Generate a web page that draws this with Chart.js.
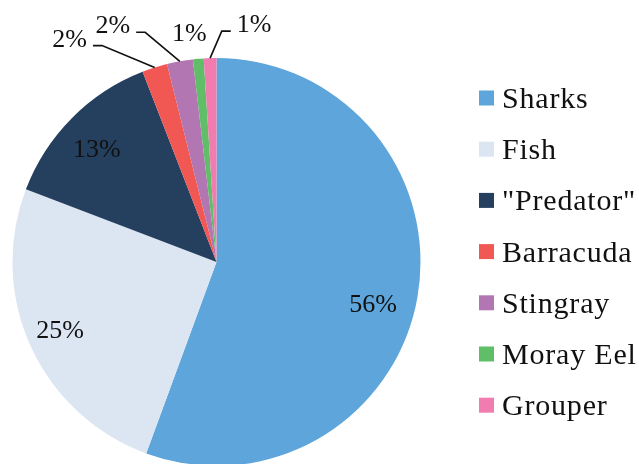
<!DOCTYPE html>
<html>
<head>
<meta charset="utf-8">
<script src="https://cdn.jsdelivr.net/npm/chart.js@4.4.1/dist/chart.umd.min.js"></script>
<style>
  html, body { margin: 0; padding: 0; background: #fff; overflow: hidden; }
  #wrap { width: 639px; height: 464px; overflow: hidden; }
</style>
</head>
<body>
<div id="wrap"><canvas id="myChart" width="639" height="470" style="width:639px;height:470px"></canvas></div>
<script>
// attacks by animal, share of total (%)
var categories = ['Sharks', 'Fish', '"Predator"', 'Barracuda', 'Stingray', 'Moray Eel', 'Grouper'];
var shares = [55.6, 25.2, 13.3, 2.0, 2.05, 0.85, 1.0];
var sliceColors = ['#5DA5DA', '#DCE6F2', '#253F5F', '#F15854', '#B276B2', '#60BD68', '#F17CB0'];

// where each % label goes: inside ones by radius fraction, small ones pushed out from the rim
var labelStyle = [
    {inside: true, r: 0.8, dx: -4, dy: 12},
    {inside: true, r: 0.8, dx: -8, dy: -1},
    {inside: true, r: 0.8, dx: -4, dy: 1},
    {inside: false, dx: -85, dy: -30, line: true},
    {inside: false, dx: -67, dy: -37, line: true},
    {inside: false, dx: -9, dy: -27, line: false},
    {inside: false, dx: 44, dy: -35, line: true}
];

var serif = "Liberation Serif";

var pctLabels = {
    id: 'pctLabels',
    afterDatasetsDraw: function(chart){
        var ctx = chart.ctx;
        var meta = chart.getDatasetMeta(0);
        var total = shares.reduce(function(a, b){ return a + b; }, 0);
        ctx.save();
        ctx.font = '26px ' + serif;
        ctx.fillStyle = '#111';
        ctx.strokeStyle = '#111';
        ctx.lineWidth = 1.6;
        meta.data.forEach(function(arc, i){
            var p = arc.getProps(['x', 'y', 'startAngle', 'endAngle', 'outerRadius'], true);
            var mid = (p.startAngle + p.endAngle) / 2;
            var txt = Math.round(shares[i] / total * 100) + '%';
            var w = ctx.measureText(txt).width;
            var st = labelStyle[i];
            var lx, ly;
            if(st.inside){
                lx = p.x + Math.cos(mid) * p.outerRadius * st.r + st.dx;
                ly = p.y + Math.sin(mid) * p.outerRadius * st.r + st.dy;
            }else{
                var ax = p.x + Math.cos(mid) * p.outerRadius;
                var ay = p.y + Math.sin(mid) * p.outerRadius;
                lx = ax + st.dx;
                ly = ay + st.dy;
                if(st.line){
                    var side = st.dx < 0 ? 1 : -1;
                    var x0 = lx + side * (w / 2 + 6);
                    var x1 = x0 + side * 9;
                    ctx.beginPath();
                    ctx.moveTo(x0, ly + 8);
                    ctx.lineTo(x1, ly + 8);
                    ctx.lineTo(ax, ay);
                    ctx.stroke();
                }
            }
            ctx.textAlign = 'center';
            ctx.textBaseline = 'alphabetic';
            ctx.fillText(txt, lx, ly + 9);
        });
        ctx.restore();
    }
};

var sideLegend = {
    id: 'sideLegend',
    afterDraw: function(chart){
        var ctx = chart.ctx;
        var x = chart.chartArea.right + 58;
        ctx.save();
        ctx.font = '30px ' + serif;
        ctx.letterSpacing = '0.8px';
        ctx.textAlign = 'left';
        ctx.textBaseline = 'alphabetic';
        chart.data.labels.forEach(function(lab, i){
            var cy = 98 + i * 51.2;
            ctx.fillStyle = chart.data.datasets[0].backgroundColor[i];
            ctx.fillRect(x, cy - 7.5, 15, 15);
            ctx.fillStyle = '#111';
            ctx.fillText(lab, x + 23, cy + 10);
        });
        ctx.restore();
    }
};

var ctx = document.getElementById('myChart');
var myPieChart = new Chart(ctx, {
    type: 'pie',
    data: {
        labels: categories,
        datasets: [{
            data: shares,
            backgroundColor: sliceColors,
            borderWidth: 0
        }]
    },
    options: {
        responsive: false,
        animation: false,
        layout: {
            padding: {left: 12, top: 58, right: 218, bottom: 4}
        },
        plugins: {
            legend: {display: false},
            tooltip: {enabled: false}
        }
    },
    plugins: [pctLabels, sideLegend]
});
</script>
</body>
</html>
